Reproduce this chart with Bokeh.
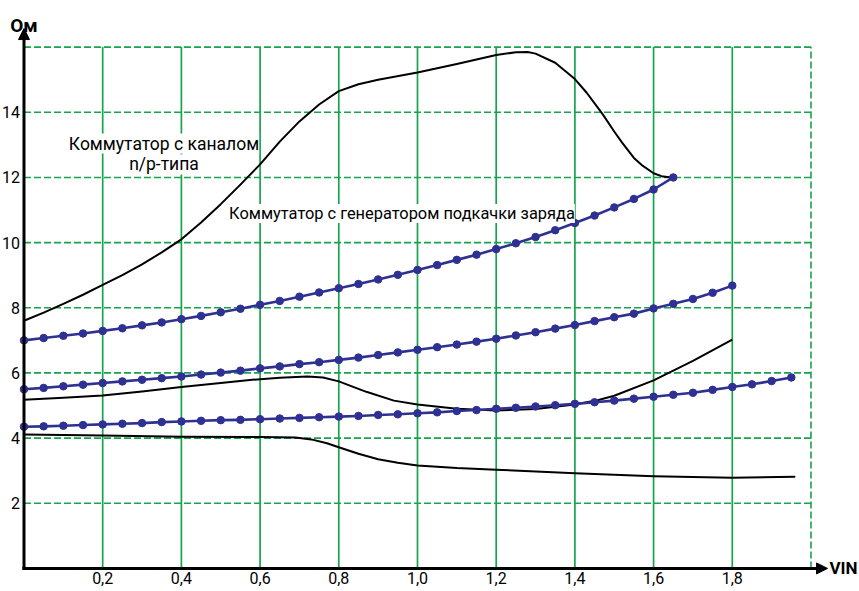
from bokeh.plotting import figure
from bokeh.models import Range1d, Label, Arrow, NormalHead
from bokeh.core.properties import value
from bokeh.embed import file_html
from bokeh.resources import INLINE

# ---------------- data ----------------
# x positions of the marker points (V)
X_STEP = [0.00, 0.05, 0.10, 0.15, 0.20, 0.25, 0.30, 0.35, 0.40, 0.45,
          0.50, 0.55, 0.60, 0.65, 0.70, 0.75, 0.80, 0.85, 0.90, 0.95,
          1.00, 1.05, 1.10, 1.15, 1.20, 1.25, 1.30, 1.35, 1.40, 1.45,
          1.50, 1.55, 1.60, 1.65, 1.70, 1.75, 1.80, 1.85, 1.90, 1.95]

# blue series (charge-pump switch), Ohm
blue1_y = [7.00, 7.07, 7.14, 7.21, 7.29, 7.37, 7.46, 7.55, 7.65, 7.75,
           7.86, 7.97, 8.09, 8.21, 8.34, 8.47, 8.60, 8.73, 8.87, 9.01,
           9.16, 9.31, 9.47, 9.63, 9.80, 9.98, 10.17, 10.38, 10.60, 10.83,
           11.08, 11.34, 11.63, 12.00]
blue2_y = [5.50, 5.54, 5.59, 5.64, 5.69, 5.74, 5.79, 5.84, 5.89, 5.95,
           6.01, 6.07, 6.14, 6.20, 6.27, 6.33, 6.40, 6.47, 6.55, 6.63,
           6.71, 6.79, 6.87, 6.96, 7.05, 7.15, 7.25, 7.36, 7.47, 7.59,
           7.71, 7.82, 7.98, 8.12, 8.27, 8.46, 8.68]
blue3_y = [4.35, 4.36, 4.38, 4.40, 4.42, 4.44, 4.46, 4.49, 4.51, 4.53,
           4.55, 4.56, 4.58, 4.60, 4.62, 4.64, 4.66, 4.68, 4.71, 4.73,
           4.76, 4.79, 4.83, 4.86, 4.90, 4.93, 4.97, 5.01, 5.05, 5.10,
           5.15, 5.21, 5.27, 5.33, 5.39, 5.48, 5.57, 5.65, 5.75, 5.86]

# black curves (n/p-channel switch), Ohm
blackA_x = [0.0, 0.05, 0.1, 0.15, 0.2, 0.25, 0.3, 0.35, 0.4, 0.45, 0.5, 0.55,
            0.6, 0.65, 0.7, 0.75, 0.8, 0.85, 0.9, 1.0, 1.1, 1.2, 1.25, 1.28,
            1.3, 1.35, 1.4, 1.43, 1.47, 1.5, 1.52, 1.55, 1.57, 1.6, 1.62,
            1.645]
blackA_y = [7.6, 7.85, 8.12, 8.4, 8.7, 9.0, 9.33, 9.7, 10.1, 10.62, 11.18,
            11.78, 12.4, 13.1, 13.72, 14.24, 14.65, 14.86, 15.0, 15.22, 15.48,
            15.76, 15.84, 15.85, 15.8, 15.52, 15.02, 14.6, 13.95, 13.41, 13.07,
            12.6, 12.38, 12.13, 12.04, 12.0]

blackB_x = [0.0, 0.1, 0.2, 0.3, 0.4, 0.5, 0.58, 0.65, 0.72, 0.76, 0.8, 0.87,
            0.94, 1.0, 1.1, 1.2, 1.3, 1.4, 1.46, 1.5, 1.6, 1.7, 1.8]
blackB_y = [5.18, 5.24, 5.31, 5.43, 5.57, 5.69, 5.79, 5.85, 5.89, 5.86, 5.74,
            5.42, 5.15, 5.03, 4.90, 4.85, 4.89, 5.03, 5.17, 5.3, 5.77, 6.37,
            7.02]

blackC_x = [0.0, 0.2, 0.4, 0.6, 0.69, 0.73, 0.77, 0.8, 0.85, 0.9, 0.95, 1.0,
            1.1, 1.2, 1.4, 1.6, 1.8, 1.96]
blackC_y = [4.11, 4.08, 4.04, 4.03, 4.02, 3.96, 3.84, 3.72, 3.52, 3.35, 3.24,
            3.16, 3.08, 3.03, 2.92, 2.83, 2.78, 2.81]

# ticks / grid
x_ticks = [0.2, 0.4, 0.6, 0.8, 1.0, 1.2, 1.4, 1.6, 1.8]
x_tick_labels = ["0,2", "0,4", "0,6", "0,8", "1,0", "1,2", "1,4", "1,6", "1,8"]
y_ticks = [2, 4, 6, 8, 10, 12, 14]
y_tick_labels = ["2", "4", "6", "8", "10", "12", "14"]
grid_y = [2, 4, 6, 8, 10, 12, 14, 16]
x_last = 2.0
y_top = 16

label_np_1 = "Коммутатор с каналом"
label_np_2 = "n/p-типа"
label_cp = "Коммутатор с генератором подкачки заряда"
y_title = "Ом"
x_title = "VIN"

# ---------------- styling ----------------
GREEN = "#16a44c"
BLUE = "#2e3192"
TXT_FONT = "Roboto"
BOLD_FONT = "Roboto"

p = figure(width=857, height=589,
           x_range=Range1d(-0.0597, 2.1182), y_range=Range1d(-0.6476, 17.431),
           x_axis_type=None, y_axis_type=None,
           output_backend="svg", toolbar_location=None, min_border=0)
p.grid.visible = False
p.outline_line_color = None
p.background_fill_color = "white"

# grid
p.segment(x0=[0] * len(grid_y), y0=grid_y, x1=[x_last] * len(grid_y), y1=grid_y,
          line_color=GREEN, line_width=1.6, line_dash="7 3")
p.segment(x0=x_ticks, y0=[0] * len(x_ticks), x1=x_ticks, y1=[y_top] * len(x_ticks),
          line_color=GREEN, line_width=1.7)
p.segment(x0=[x_last], y0=[0], x1=[x_last], y1=[y_top],
          line_color=GREEN, line_width=1.6, line_dash="7 3")

# black curves
for xs, ys in [(blackA_x, blackA_y), (blackB_x, blackB_y), (blackC_x, blackC_y)]:
    p.line(xs, ys, line_color="black", line_width=2, line_join="round")

# blue curves with markers
for ys in [blue1_y, blue2_y, blue3_y]:
    xs = X_STEP[:len(ys)]
    p.line(xs, ys, line_color=BLUE, line_width=2.6, line_join="round")
    p.scatter(xs, ys, size=7.5, fill_color=BLUE, line_color=BLUE)

# tick labels
p.text(x=[0] * len(y_ticks), y=y_ticks, text=y_tick_labels,
       text_align="right", text_baseline="middle", x_offset=-4,
       text_font=value(TXT_FONT), text_font_size="16px", text_color="black")
p.text(x=x_ticks, y=[0] * len(x_ticks), text=x_tick_labels,
       text_align="center", text_baseline="top", y_offset=4,
       text_font=value(TXT_FONT), text_font_size="16px", text_color="black")

# axes with arrows
p.add_layout(Arrow(end=NormalHead(size=11, fill_color="black", line_color="black"),
                   x_start=0, y_start=-0.05, x_end=0, y_end=16.57,
                   line_color="black", line_width=3))
p.add_layout(Arrow(end=NormalHead(size=11, fill_color="black", line_color="black"),
                   x_start=-0.004, y_start=0, x_end=2.042, y_end=0,
                   line_color="black", line_width=3))

p.add_layout(Label(x=0, y=16.66, text=y_title, text_align="center",
                   text_baseline="alphabetic", text_font=BOLD_FONT,
                   text_font_style="bold", text_font_size="19px",
                   text_color="black"))
p.add_layout(Label(x=2.047, y=0, text=x_title, text_align="left",
                   text_baseline="middle", text_font=BOLD_FONT,
                   text_font_style="bold", text_font_size="17px",
                   text_color="black"))

# annotations
p.add_layout(Label(x=0.3558, y=13.04, text=label_np_1, text_align="center",
                   text_baseline="alphabetic", text_font=TXT_FONT,
                   text_font_size="17.5px", text_color="black",
                   background_fill_color="white"))
p.add_layout(Label(x=0.3558, y=12.40, text=label_np_2, text_align="center",
                   text_baseline="alphabetic", text_font=TXT_FONT,
                   text_font_size="17.5px", text_color="black",
                   background_fill_color="white"))
p.add_layout(Label(x=0.9606, y=10.89, text=label_cp, text_align="center",
                   text_baseline="alphabetic", text_font=TXT_FONT,
                   text_font_size="16.4px", text_color="black",
                   background_fill_color="white"))

open("out.html", "w").write(file_html(p, INLINE))
